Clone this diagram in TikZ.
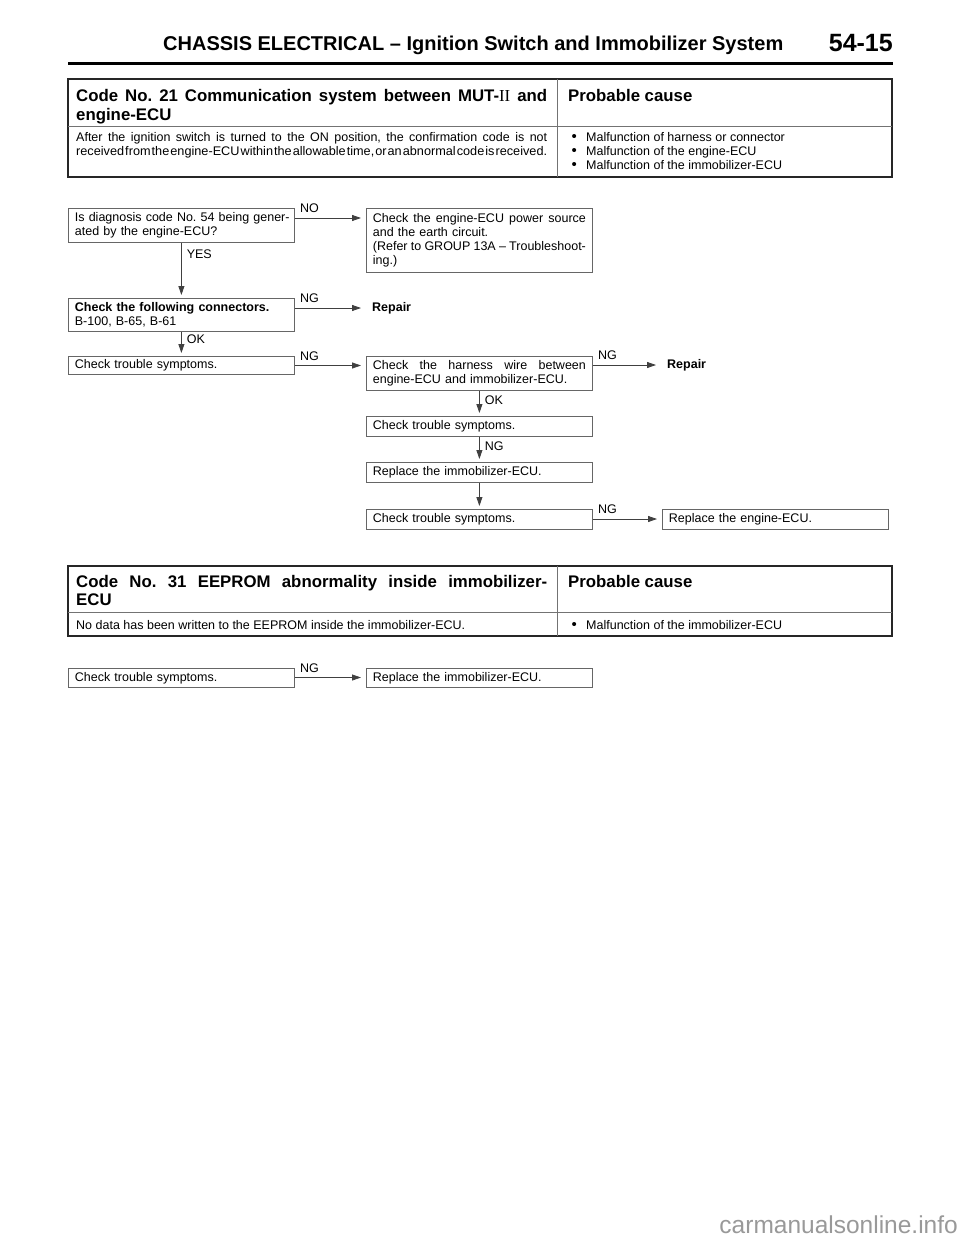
\documentclass[tikz,border=0pt]{standalone}
\usepackage{fontspec}
\usepackage{graphicx}
\setmainfont{Liberation Sans}
\newfontfamily\romII{Liberation Serif}
\usetikzlibrary{arrows.meta}
\newcommand\fsm{\fontsize{12.5}{14}\selectfont}
\newcommand\fhd{\fontsize{16.8}{19}\selectfont\bfseries}
\newcommand\jl[1]{{\spaceskip=0pt\xspaceskip=0pt\makebox[213pt][s]{#1}}}
\newcommand\bul{\makebox[14.5pt][l]{\raisebox{-0.4pt}{\fontsize{15}{14}\selectfont\textbullet}}}
\frenchspacing
\begin{document}
\frenchspacing
\begin{tikzpicture}[x=1pt,y=-1pt,
  box/.style={draw=black!60, line width=0.8pt, anchor=north west, inner xsep=6.5pt, inner ysep=0pt,
    align=left, font=\fsm\frenchspacing, text width=213pt, minimum width=226pt},
  arr/.style={draw=black!75, line width=0.8pt, -{Triangle[length=9pt,width=6pt]}},
  harr/.style={arr, shorten >=5pt},
  varr/.style={arr, shorten >=3pt},
  lbl/.style={font=\fsm, inner sep=0pt},
  txt/.style={inner sep=0pt, anchor=base west},
  thick border/.style={draw=black!85, line width=1.6pt},
  thin rule/.style={draw=black!55, line width=0.8pt},
  endtext/.style={font=\fsm\bfseries, anchor=west, inner xsep=6pt, inner ysep=0pt}
]
\fill[white] (0,0) rectangle (960,1242);
\useasboundingbox (0,0) rectangle (960,1242);

% page heading
\node[txt, font=\fontsize{20}{24}\selectfont\bfseries] (head) at (163,50)
  {CHASSIS ELECTRICAL -- Ignition Switch and Immobilizer System};
\node[inner sep=0pt, anchor=base east, font=\fontsize{25}{30}\selectfont\bfseries] (pageno) at (893,51) {54-15};
\draw[line width=3pt] (68,63) -- (893,63);

% ---------- table 1 ----------
\draw[thick border] (68,79) rectangle (892,177);
\draw[thin rule] (68,126) -- (892,126);
\draw[thin rule] (557,79) -- (557,177);
\node[txt, font=\fhd] (t1h1) at (76,101)
  {\makebox[471pt][s]{Code No. 21 Communication system between MUT-{\romII\mdseries II} and}};
\node[txt, font=\fhd] (t1h2) at (76,120) {engine-ECU};
\node[txt, font=\fhd] (t1pc) at (568,101) {Probable cause};
\node[txt, font=\fsm] (t1b1) at (76,141)
  {\makebox[471pt][s]{After the ignition switch is turned to the ON position, the confirmation code is not}};
\node[txt, font=\fsm] (t1b2) at (76,155)
  {\resizebox{471pt}{\height}{\spaceskip=1pt plus 1pt minus 0.5pt received from the engine-ECU within the allowable time, or an abnormal code is received.}};
\node[txt, font=\fsm] (t1c1) at (571.5,141) {\bul Malfunction of harness or connector};
\node[txt, font=\fsm] (t1c2) at (571.5,155) {\bul Malfunction of the engine-ECU};
\node[txt, font=\fsm] (t1c3) at (571.5,169) {\bul Malfunction of the immobilizer-ECU};

% ---------- flow chart 1 ----------
\node[box, minimum height=34pt] (A) at (68,208)
  {\mbox{Is diagnosis code No. 54 being gener-}\\ated by the engine-ECU?};
\node[box, minimum height=64pt] (B) at (366,208)
  {\jl{Check the engine-ECU power source}\\and the earth circuit.\\\jl{(Refer to GROUP 13A -- Troubleshoot-}\\ing.)};
\node[box, minimum height=33pt] (C) at (68,298)
  {\textbf{Check the following connectors.}\\B-100, B-65, B-61};
\node[endtext] (R1) at (366,308) {Repair};
\node[box, minimum height=18pt] (D) at (68,356) {Check trouble symptoms.};
\node[box, minimum height=34pt] (E) at (366,356)
  {\jl{Check the harness wire between}\\engine-ECU and immobilizer-ECU.};
\node[endtext] (R2) at (661,365.5) {Repair};
\node[box, minimum height=20pt] (F) at (366,416) {Check trouble symptoms.};
\node[box, minimum height=20pt] (G) at (366,462) {Replace the immobilizer-ECU.};
\node[box, minimum height=20pt] (H) at (366,509) {Check trouble symptoms.};
\node[box, minimum height=20pt] (I) at (662,509) {Replace the engine-ECU.};

\draw[harr] ([yshift=-10pt]A.north east) node[lbl, anchor=base west, xshift=5pt, yshift=5.5pt] (lNO) {NO}
  -- ([yshift=-10pt]A.north east -| B.west);
\draw[varr] (A.south) node[lbl, anchor=base west, xshift=5pt, yshift=-15.5pt] (lYES) {YES} -- (C.north);
\draw[harr] ([yshift=-10pt]C.north east) node[lbl, anchor=base west, xshift=5pt, yshift=5.5pt] (lNG1) {NG}
  -- ([yshift=-10pt]C.north east -| R1.west);
\draw[varr] (C.south) node[lbl, anchor=base west, xshift=5pt, yshift=-11.5pt] (lOK1) {OK} -- (D.north);
\draw[harr] ([yshift=-9.5pt]D.north east) node[lbl, anchor=base west, xshift=5pt, yshift=5.5pt] (lNG2) {NG}
  -- ([yshift=-9.5pt]D.north east -| E.west);
\draw[harr] ([yshift=-9pt]E.north east) node[lbl, anchor=base west, xshift=5pt, yshift=5.5pt] (lNG3) {NG}
  -- ([yshift=-9pt]E.north east -| R2.west);
\draw[varr] (E.south) node[lbl, anchor=base west, xshift=5pt, yshift=-14pt] (lOK2) {OK} -- (F.north);
\draw[varr] (F.south) node[lbl, anchor=base west, xshift=5pt, yshift=-14pt] (lNG4) {NG} -- (G.north);
\draw[varr] (G.south) -- (H.north);
\draw[harr] ([yshift=-10pt]H.north east) node[lbl, anchor=base west, xshift=5pt, yshift=5.5pt] (lNG5) {NG}
  -- ([yshift=-10pt]H.north east -| I.west);

% ---------- table 2 ----------
\draw[thick border] (68,566) rectangle (892,636);
\draw[thin rule] (68,612) -- (892,612);
\draw[thin rule] (557,566) -- (557,636);
\node[txt, font=\fhd] (t2h1) at (76,587)
  {\makebox[471pt][s]{Code No. 31 EEPROM abnormality inside immobilizer-}};
\node[txt, font=\fhd] (t2h2) at (76,605) {ECU};
\node[txt, font=\fhd] (t2pc) at (568,587) {Probable cause};
\node[txt, font=\fsm] (t2b1) at (76,629) {No data has been written to the EEPROM inside the immobilizer-ECU.};
\node[txt, font=\fsm] (t2c1) at (571.5,629) {\bul Malfunction of the immobilizer-ECU};

% ---------- flow chart 2 ----------
\node[box, minimum height=19pt] (J) at (68,668) {Check trouble symptoms.};
\node[box, minimum height=19pt] (K) at (366,668) {Replace the immobilizer-ECU.};
\draw[harr] ([yshift=-9.5pt]J.north east) node[lbl, anchor=base west, xshift=5pt, yshift=5.5pt] (lNG6) {NG}
  -- ([yshift=-9.5pt]J.north east -| K.west);

% watermark
\node[inner sep=0pt, anchor=base east, font=\fontsize{24.5}{28}\selectfont, text=black!40] (wm) at (958,1233)
  {carmanualsonline.info};
\end{tikzpicture}
\end{document}
